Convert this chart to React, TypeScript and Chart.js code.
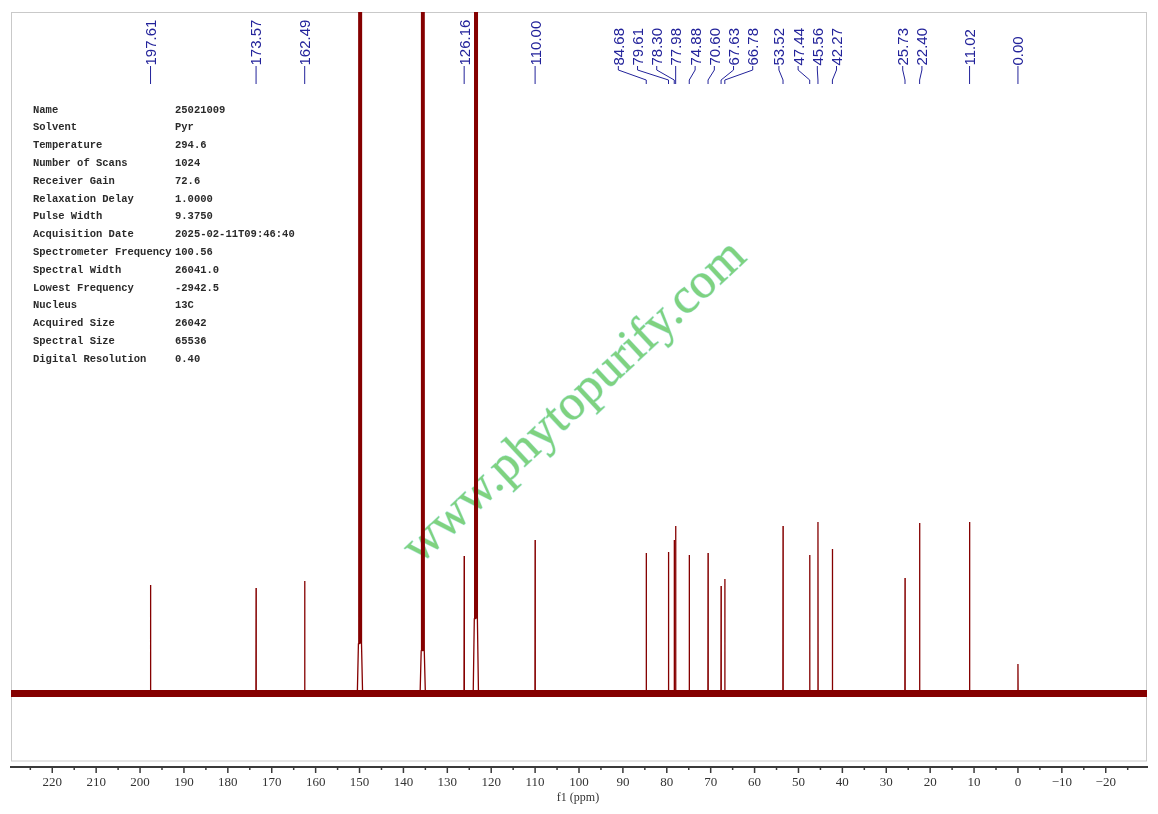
import React, { useEffect, useRef } from 'react';
import { Chart, registerables } from 'chart.js';

Chart.register(...registerables);

// ---- axis range (ppm) ----
const xMin = -29.4;
const xMax = 229.4;

// ---- labelled peaks ----
const peakShifts = [197.61, 173.57, 162.49, 126.16, 110.0, 84.68, 79.61, 78.3, 77.98, 74.88, 70.6, 67.63, 66.78, 53.52, 47.44, 45.56, 42.27, 25.73, 22.4, 11.02, 0.0];
const peakHeights = [108.5, 105.5, 112.5, 137.5, 153.5, 140.5, 141.5, 153.5, 167.5, 138.5, 140.5, 107.5, 114.5, 167.5, 138.5, 171.5, 144.5, 115.5, 170.5, 171.5, 29.5];
const peakLabels = ['197.61', '173.57', '162.49', '126.16', '110.00', '84.68', '79.61', '78.30', '77.98', '74.88', '70.60', '67.63', '66.78', '53.52', '47.44', '45.56', '42.27', '25.73', '22.40', '11.02', '0.00'];

// ---- solvent (pyridine-d5) triplets ----
const solventShifts = [149.9, 135.6, 123.5];
const solventHeights = [2000, 2000, 2000];
const solventFootHeights = [50, 43, 75];
const solventSplit = 0.27;

// ---- tick labels ----
const tickStep = 5;
const labelStep = 10;

// ---- acquisition parameters ----
const paramNames = ['Name', 'Solvent', 'Temperature', 'Number of Scans', 'Receiver Gain', 'Relaxation Delay', 'Pulse Width', 'Acquisition Date', 'Spectrometer Frequency', 'Spectral Width', 'Lowest Frequency', 'Nucleus', 'Acquired Size', 'Spectral Size', 'Digital Resolution'];
const paramValues = ['25021009', 'Pyr', '294.6', '1024', '72.6', '1.0000', '9.3750', '2025-02-11T09:46:40', '100.56', '26041.0', '-2942.5', '13C', '26042', '65536', '0.40'];

const watermark = 'www.phytopurify.com';
const axisTitle = 'f1 (ppm)';

const SPEC_COLOR = '#850000';
const LABEL_COLOR = '#22229a';

type Pt = { x: number; y: number };

function buildSpectrum(): Pt[] {
  const segs: { c: number; pts: Pt[] }[] = [];
  peakShifts.forEach((p, i) => {
    segs.push({ c: p, pts: [{ x: p + 0.04, y: 0 }, { x: p, y: peakHeights[i] }, { x: p - 0.04, y: 0 }] });
  });
  solventShifts.forEach((c, i) => {
    const H = solventHeights[i];
    const f = solventFootHeights[i];
    const j = solventSplit;
    segs.push({
      c,
      pts: [
        { x: c + 0.6, y: 0 },
        { x: c + 0.35, y: f },
        { x: c + j, y: H },
        { x: c + j / 2, y: f },
        { x: c, y: H },
        { x: c - j / 2, y: f },
        { x: c - j, y: H },
        { x: c - 0.35, y: f },
        { x: c - 0.6, y: 0 },
      ],
    });
  });
  segs.sort((a, b) => b.c - a.c);
  const pts: Pt[] = [{ x: xMax, y: 0 }];
  segs.forEach((s) => pts.push(...s.pts));
  pts.push({ x: xMin, y: 0 });
  return pts;
}

function layoutLabels(pxs: number[], gap: number): number[] {
  const order = pxs.map((_, i) => i).sort((a, b) => pxs[a] - pxs[b]);
  let groups: number[][] = order.map((i) => [i]);
  const center = (g: number[]) => {
    const xs = g.map((i) => pxs[i]);
    return (Math.min(...xs) + Math.max(...xs)) / 2;
  };
  let merged = true;
  while (merged) {
    merged = false;
    for (let k = 0; k < groups.length - 1; k++) {
      const a = groups[k];
      const b = groups[k + 1];
      const aR = center(a) + ((a.length - 1) * gap) / 2;
      const bL = center(b) - ((b.length - 1) * gap) / 2;
      if (bL - aR < gap) {
        groups.splice(k, 2, [...a, ...b]);
        merged = true;
        break;
      }
    }
  }
  const out: number[] = new Array(pxs.length);
  groups.forEach((g) => {
    const c = center(g);
    g.forEach((id, j) => {
      out[id] = c + (j - (g.length - 1) / 2) * gap;
    });
  });
  return out;
}

const decorPlugin = {
  id: 'decor',
  beforeDatasetsDraw(chart: any) {
    const ctx = chart.ctx as CanvasRenderingContext2D;
    const area = chart.chartArea;
    // frame
    ctx.save();
    ctx.strokeStyle = '#c9c9c9';
    ctx.lineWidth = 1;
    ctx.strokeRect(area.left + 0.5, area.top + 0.5, area.right - area.left - 1, 760.5 - area.top);
    ctx.restore();
    // watermark
    ctx.save();
    ctx.translate(584, 412);
    ctx.rotate((-43 * Math.PI) / 180);
    ctx.font = '50px "Liberation Serif"';
    ctx.textAlign = 'center';
    ctx.textBaseline = 'alphabetic';
    ctx.lineWidth = 1;
    ctx.strokeStyle = 'rgba(150,225,215,0.7)';
    ctx.strokeText(watermark, 0, 0);
    ctx.fillStyle = '#7fd27f';
    ctx.fillText(watermark, 0, 0);
    ctx.restore();
  },
  afterDraw(chart: any) {
    const ctx = chart.ctx as CanvasRenderingContext2D;
    const xs = chart.scales.x;
    const area = chart.chartArea;
    // tick marks
    ctx.save();
    ctx.strokeStyle = '#3a3a3a';
    ctx.lineWidth = 1.5;
    xs.ticks.forEach((t: any) => {
      const v = Math.round(t.value);
      const px = xs.getPixelForValue(t.value);
      const len = v % labelStep === 0 ? 6 : 3;
      ctx.beginPath();
      ctx.moveTo(px, area.bottom);
      ctx.lineTo(px, area.bottom + len);
      ctx.stroke();
    });
    ctx.restore();
    // axis title
    ctx.save();
    ctx.fillStyle = '#333';
    ctx.font = '12px "Liberation Serif"';
    ctx.textAlign = 'center';
    ctx.textBaseline = 'middle';
    ctx.fillText(axisTitle, 578, 798);
    ctx.restore();
    // peak labels
    const pxs = peakShifts.map((p) => xs.getPixelForValue(p));
    const lx = layoutLabels(pxs, 19.2);
    ctx.save();
    ctx.strokeStyle = LABEL_COLOR;
    ctx.fillStyle = LABEL_COLOR;
    ctx.lineWidth = 1;
    ctx.font = '15px "Liberation Sans"';
    const yText = 66;
    peakLabels.forEach((lab, i) => {
      const x0 = lx[i];
      const x1 = pxs[i];
      ctx.beginPath();
      if (Math.abs(x0 - x1) < 0.5) {
        ctx.moveTo(x1, yText);
        ctx.lineTo(x1, 84);
      } else {
        ctx.moveTo(x0, yText);
        ctx.lineTo(x0, 70);
        ctx.lineTo(x1, 80);
        ctx.lineTo(x1, 84);
      }
      ctx.stroke();
      ctx.save();
      ctx.translate(x0, yText - 0.5);
      ctx.rotate(-Math.PI / 2);
      ctx.textAlign = 'left';
      ctx.textBaseline = 'alphabetic';
      ctx.fillText(lab, 0, 5.4);
      ctx.restore();
    });
    ctx.restore();
    // parameter table
    ctx.save();
    ctx.fillStyle = '#2a2a2a';
    ctx.font = 'bold 10.5px "Liberation Mono"';
    ctx.textAlign = 'left';
    ctx.textBaseline = 'middle';
    paramNames.forEach((n, i) => {
      const y = 110 + i * 17.8;
      ctx.fillText(n, 33, y);
      ctx.fillText(paramValues[i], 175, y);
    });
    ctx.restore();
  },
};

export default function App() {
  const ref = useRef<HTMLCanvasElement | null>(null);
  useEffect(() => {
    const canvas = ref.current;
    if (!canvas) return;
    const spectrum = buildSpectrum();
    const chart = new Chart(canvas, {
      type: 'scatter',
      data: {
        datasets: [
          {
            data: [{ x: xMax, y: 0 }, { x: xMin, y: 0 }],
            showLine: true,
            borderColor: SPEC_COLOR,
            borderWidth: 7,
            pointRadius: 0,
          },
          {
            data: spectrum,
            showLine: true,
            borderColor: SPEC_COLOR,
            borderWidth: 1.3,
            borderJoinStyle: 'bevel',
            pointRadius: 0,
          },
        ],
      } as any,
      options: {
        animation: false,
        responsive: false,
        devicePixelRatio: 1,
        events: [],
        layout: { padding: { left: 11, right: 11, top: 12, bottom: 0 } },
        plugins: { legend: { display: false }, tooltip: { enabled: false } },
        scales: {
          x: {
            type: 'linear',
            position: 'bottom',
            reverse: true,
            min: xMin,
            max: xMax,
            grid: { display: false, drawTicks: false },
            border: { display: true, color: '#3a3a3a', width: 2 },
            ticks: {
              stepSize: tickStep,
              includeBounds: false,
              autoSkip: false,
              maxRotation: 0,
              minRotation: 0,
              padding: 8,
              color: '#333',
              font: { family: 'Liberation Serif', size: 13 },
              callback: (value: any) => {
                const v = Math.round(Number(value));
                if (v % labelStep !== 0) return '';
                return v < 0 ? '\u2212' + Math.abs(v) : String(v);
              },
            },
            afterFit: (s: any) => {
              s.height = 47;
            },
          },
          y: { display: false, min: -73.5, max: 681.5 },
        },
      } as any,
      plugins: [decorPlugin],
    });
    return () => chart.destroy();
  }, []);
  return (
    <div style={{ position: 'absolute', left: 0, top: 0, width: 1158, height: 814, background: '#fff' }}>
      <canvas ref={ref} width={1158} height={814} style={{ display: 'block', width: 1158, height: 814 }} />
    </div>
  );
}
